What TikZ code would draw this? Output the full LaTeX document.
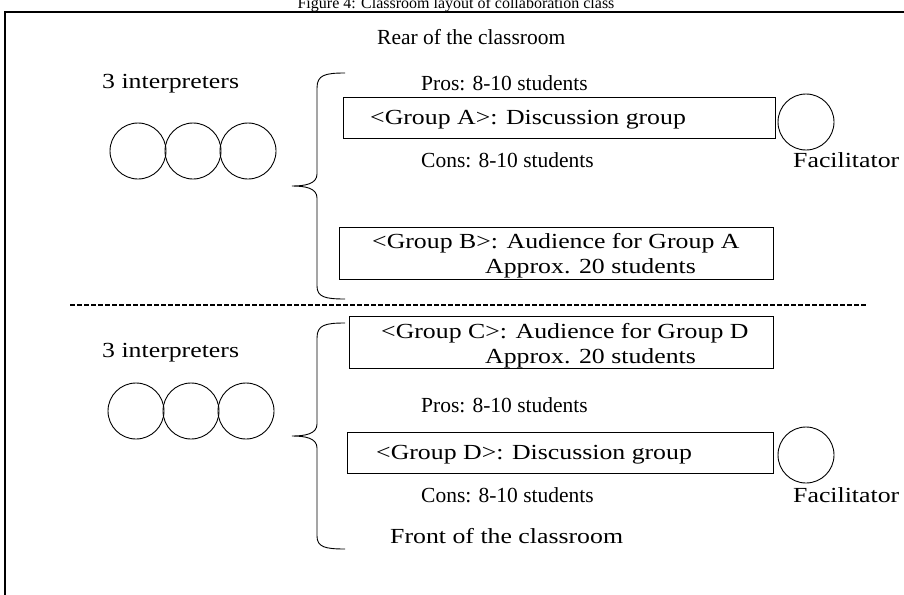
\documentclass[tikz,border=0pt]{standalone}
\usepackage{fontspec}
\setmainfont[FakeStretch=1.2]{Liberation Serif}
\newfontfamily\plainserif{Liberation Serif}
\begin{document}
\begin{tikzpicture}[x=1pt,y=-1pt,
  txt/.style={inner sep=0pt,anchor=base west,font=\fontsize{21.5}{24}\selectfont},
  txtn/.style={inner sep=0pt,anchor=base west,font=\plainserif\fontsize{21.5}{24}\selectfont},
  ring/.style={draw,circle,line width=0.9pt,inner sep=0pt,minimum size=56pt},
  fac/.style={draw,circle,line width=0.9pt,inner sep=0pt,minimum size=56pt},
  grp/.style={draw,line width=0.9pt,inner sep=0pt,anchor=north west},
  brace/.style={line width=0.9pt},
  frame/.style={line width=2pt}]
\useasboundingbox (0,0) rectangle (904,594);
% title (cut off at top)
\node[inner sep=0pt,anchor=base,font=\plainserif\fontsize{16}{18}\selectfont] (title) at (456,9) {Figure 4: Classroom layout of collaboration class};
% frame
\coordinate (ftl) at (5,12);
\coordinate (ftr) at (910,12);
\coordinate (fbl) at (5,600);
\draw[frame] (ftr) -- (ftl) -- (fbl);
% top half
\node[txtn] (rear) at (377,45) {Rear of the classroom};
\node[txt] (int1) at (102,88) {3 interpreters};
\node[ring] (c1) at (138,151) {};
\node[ring] (c2) at (193,151) {};
\node[ring] (c3) at (248,151) {};
\draw[brace] (345,73) .. controls (325,73) and (317,75) .. (317,88) -- (317,174)
  .. controls (317,184) and (305,186) .. (292,186)
  .. controls (305,186) and (317,188) .. (317,198) -- (317,286)
  .. controls (317,297) and (325,299) .. (345,299);
\node[txtn] (prosA) at (421,90) {Pros: 8-10 students};
\node[grp,minimum width=432pt,minimum height=41pt] (boxA) at (343,97) {};
\node[txt] (gA) at (370,124) {<Group A>: Discussion group};
\node[fac] (facA) at (806,122) {};
\node[txt] (facAt) at (793,167) {Facilitator};
\node[txtn] (consA) at (421,167) {Cons: 8-10 students};
\node[grp,minimum width=434pt,minimum height=52pt] (boxB) at (339,227) {};
\node[txt] (gB) at (372,248) {<Group B>: Audience for Group A};
\node[txt] (apB) at (485,273) {Approx. 20 students};
% divider
\coordinate (d1) at (70,305);
\coordinate (d2) at (867,305);
\draw[line width=1.3pt,dash pattern=on 5pt off 2pt] (d1) -- (d2);
% bottom half
\node[txt] (int2) at (102,357) {3 interpreters};
\node[ring] (c4) at (136,411) {};
\node[ring] (c5) at (191,411) {};
\node[ring] (c6) at (246,411) {};
\draw[brace] (345,323) .. controls (325,323) and (317,325) .. (317,338) -- (317,424)
  .. controls (317,434) and (305,436) .. (292,436)
  .. controls (305,436) and (317,438) .. (317,448) -- (317,536)
  .. controls (317,547) and (325,549) .. (345,549);
\node[grp,minimum width=424pt,minimum height=52pt] (boxC) at (349,316) {};
\node[txt] (gC) at (381,338) {<Group C>: Audience for Group D};
\node[txt] (apC) at (485,363) {Approx. 20 students};
\node[txtn] (prosD) at (421,412) {Pros: 8-10 students};
\node[grp,minimum width=426pt,minimum height=41pt] (boxD) at (347,432) {};
\node[txt] (gD) at (376,459) {<Group D>: Discussion group};
\node[fac] (facD) at (806,455) {};
\node[txt] (facDt) at (793,502) {Facilitator};
\node[txtn] (consD) at (421,502) {Cons: 8-10 students};
\node[txt] (front) at (390,543) {Front of the classroom};
\end{tikzpicture}
\end{document}
